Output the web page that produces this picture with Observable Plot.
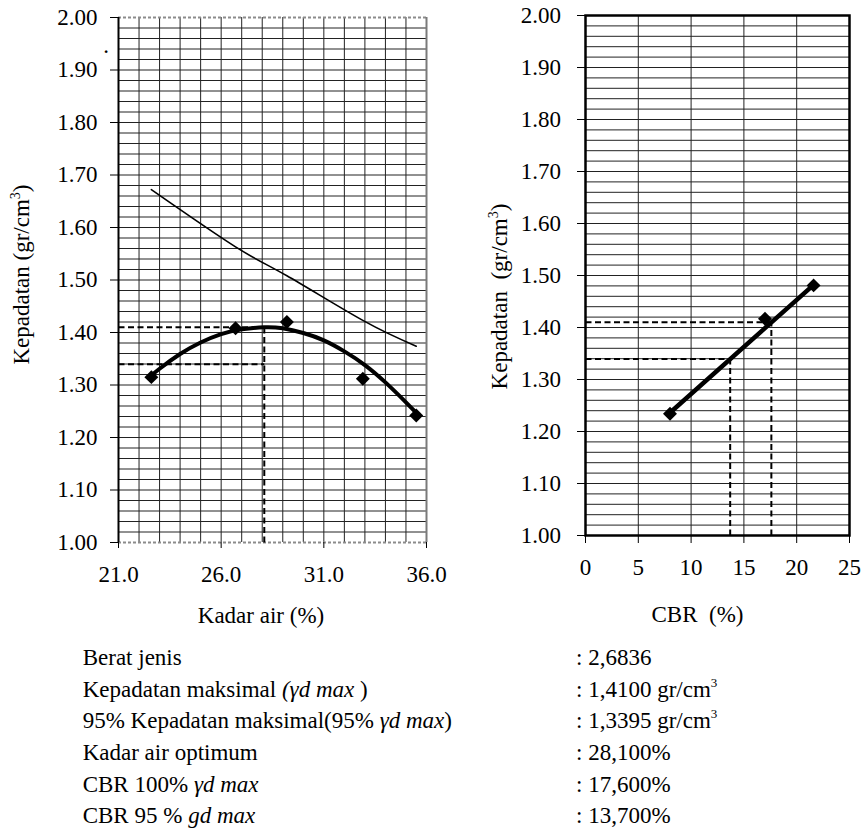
<!DOCTYPE html>
<html>
<head>
<meta charset="utf-8">
<script src="https://cdn.jsdelivr.net/npm/d3@7"></script>
<script src="https://cdn.jsdelivr.net/npm/@observablehq/plot@0.6"></script>
<style>
  body { margin: 0; background: #fff; }
  #page { position: relative; width: 863px; height: 834px; overflow: hidden; background: #fff; color: #000; }
  .chart { position: absolute; top: 0; }
  .chart svg { overflow: visible; }
  #overlay { position: absolute; left: 0; top: 0; pointer-events: none; overflow: visible; }
</style>
</head>
<body>
<div id="page">
  <div id="leftChart" class="chart" style="left:0px"></div>
  <div id="rightChart" class="chart" style="left:480px"></div>
</div>
<script>
// ---------- data ----------
// compaction test points
const kadarAir        = [22.6, 26.7, 29.2, 32.9, 35.5];
const kepadatanKering = [1.315, 1.408, 1.420, 1.312, 1.242];
// zero-air-voids line
const zavKadarAir   = [22.6, 26.7, 29.2, 32.9, 35.5];
const zavKepadatan  = [1.672, 1.563, 1.508, 1.423, 1.374];
// fitted compaction curve
const kurvaKadarAir  = [22.6, 23.0, 24.0, 25.0, 26.0, 27.0, 28.1, 29.0, 30.0, 31.0, 32.0, 33.0, 34.0, 35.0, 35.6];
const kurvaKepadatan = [1.318, 1.331, 1.359, 1.381, 1.397, 1.406, 1.410, 1.408, 1.399, 1.385, 1.364, 1.338, 1.305, 1.267, 1.243];
// CBR points
const cbr          = [8.0, 17.0, 21.6];
const kepadatanCBR = [1.234, 1.417, 1.481];
// CBR trend line end points
const trendCBR       = [8.0, 21.6];
const trendKepadatan = [1.236, 1.482];
// reference values
const gdMax = 1.41, gd95 = 1.3395, kadarAirOpt = 28.1, cbr100 = 17.6, cbr95 = 13.7;
// ticks
const yTicks       = [1.0, 1.1, 1.2, 1.3, 1.4, 1.5, 1.6, 1.7, 1.8, 1.9, 2.0];
const yGrid        = d3.range(0, 51).map(i => 1 + i * 0.02);
const xTicksKadar  = [21, 26, 31, 36];
const xGridKadar   = d3.range(21, 37);
const xTicksCBR    = [0, 5, 10, 15, 20, 25];
const xGridCBR     = [5, 10, 15, 20];
// texts
const labelInfo   = ["Berat jenis", "Kepadatan maksimal ", "95% Kepadatan maksimal(95% ", "Kadar air optimum", "CBR 100% ", "CBR 95 % "];
const labelItalic = ["", "(γd max ", "γd max", "", "γd max", "gd max"];
const labelTail   = ["", ")", ")", "", "", ""];
const valueInfo   = [": 2,6836", ": 1,4100 gr/cm", ": 1,3395 gr/cm", ": 28,100%", ": 17,600%", ": 13,700%"];
const valueSup    = ["", "3", "3", "", "", ""];

const FONT = "'Liberation Serif', serif";
const tickPx = 23;
const titlePx = 23;
const blockPx = 23;

// ---------- tables ----------
const titik  = kadarAir.map((x, i) => ({x, y: kepadatanKering[i]}));
const zav    = zavKadarAir.map((x, i) => ({x, y: zavKepadatan[i]}));
const kurva  = kurvaKadarAir.map((x, i) => ({x, y: kurvaKepadatan[i]}));
const titikCBR = cbr.map((x, i) => ({x, y: kepadatanCBR[i]}));
const trend  = trendCBR.map((x, i) => ({x, y: trendKepadatan[i]}));
const guidesLeft = [
  {x1: 21, y1: gdMax, x2: kadarAirOpt, y2: gdMax},
  {x1: 21, y1: gd95, x2: kadarAirOpt, y2: gd95},
  {x1: kadarAirOpt, y1: 1, x2: kadarAirOpt, y2: gdMax}
];
const guidesRight = [
  {x1: 0, y1: gdMax, x2: cbr100, y2: gdMax},
  {x1: cbr100, y1: 1, x2: cbr100, y2: gdMax},
  {x1: 0, y1: gd95, x2: cbr95, y2: gd95},
  {x1: cbr95, y1: 1, x2: cbr95, y2: gd95}
];

const baseStyle = {fontFamily: FONT, fontSize: `${tickPx}px`, background: "transparent", overflow: "visible"};
const gridColor = "#222";
const dash = {stroke: "#000", strokeWidth: 2, strokeDasharray: "6,3.5"};

const left = Plot.plot({
  width: 440, height: 600,
  marginLeft: 118, marginRight: 14, marginTop: 17, marginBottom: 58,
  x: {domain: [21, 36]},
  y: {domain: [1, 2]},
  style: baseStyle,
  marks: [
    Plot.ruleY(yGrid.filter(v => v > 1.001 && v < 1.999), {stroke: gridColor, strokeWidth: 1}),
    Plot.ruleX(xGridKadar.filter(v => v > 21 && v < 36), {stroke: gridColor, strokeWidth: 1}),
    Plot.ruleY([1, 2], {stroke: "#8c8c8c", strokeWidth: 2, strokeDasharray: "3,2"}),
    Plot.ruleX([36], {stroke: "#7a7a7a", strokeWidth: 2}),
    Plot.ruleX([21], {stroke: "#000", strokeWidth: 2}),
    Plot.link(guidesLeft, {x1: "x1", y1: "y1", x2: "x2", y2: "y2", ...dash}),
    Plot.line(zav, {x: "x", y: "y", stroke: "#000", strokeWidth: 1.6, curve: "natural"}),
    Plot.line(kurva, {x: "x", y: "y", stroke: "#000", strokeWidth: 4, curve: "natural"}),
    Plot.dot(titik, {x: "x", y: "y", symbol: "diamond2", r: 6.3, fill: "#000"}),
    Plot.axisY(yTicks, {tickSize: 8, tickPadding: 13, tickFormat: d => d.toFixed(2)}),
    Plot.axisX(xTicksKadar, {tickSize: 6, tickPadding: 17, tickFormat: d => d.toFixed(1)})
  ]
});

const right = Plot.plot({
  width: 383, height: 600,
  marginLeft: 105, marginRight: 14, marginTop: 15, marginBottom: 65,
  x: {domain: [0, 25]},
  y: {domain: [1, 2]},
  style: baseStyle,
  marks: [
    Plot.ruleY(yGrid.filter(v => v > 1.001 && v < 1.999), {stroke: gridColor, strokeWidth: 1}),
    Plot.ruleX(xGridCBR, {stroke: gridColor, strokeWidth: 1}),
    Plot.link(guidesRight, {x1: "x1", y1: "y1", x2: "x2", y2: "y2", ...dash}),
    Plot.line(trend, {x: "x", y: "y", stroke: "#000", strokeWidth: 4.5}),
    Plot.dot(titikCBR, {x: "x", y: "y", symbol: "diamond2", r: 6.3, fill: "#000"}),
    Plot.frame({stroke: "#000", strokeWidth: 2.5}),
    Plot.axisY(yTicks, {tickSize: 8, tickPadding: 16.5, tickFormat: d => d.toFixed(2)}),
    Plot.axisX(xTicksCBR, {tickSize: 8, tickPadding: 15, tickFormat: d => String(d)})
  ]
});

[left, right].forEach(svg => svg.querySelectorAll("text").forEach(t => {
  t.setAttribute("font-family", "Liberation Serif");
}));
document.getElementById("leftChart").appendChild(left);
document.getElementById("rightChart").appendChild(right);

// ---------- titles and info block (overlay svg, baseline-positioned) ----------
const ov = d3.select("#page").append("svg").attr("id", "overlay")
  .attr("width", 863).attr("height", 834).attr("fill", "#000")
  .attr("font-family", "Liberation Serif");

function txt(g, px) {
  return g.append("text").attr("font-family", "Liberation Serif").attr("font-size", px);
}
function titleWithSup(g, main, sup, tail) {
  const t = txt(g, titlePx);
  t.append("tspan").text(main);
  t.append("tspan").attr("font-size", 14).attr("dy", -9).text(sup);
  t.append("tspan").attr("dy", 9).text(tail);
  return t;
}
// y titles (rotated)
titleWithSup(ov, "Kepadatan (gr/cm", "3", ")")
  .attr("text-anchor", "middle")
  .attr("transform", "translate(29,274.5) rotate(-90)");
titleWithSup(ov, "Kepadatan\u00a0 (gr/cm", "3", ")")
  .attr("text-anchor", "middle")
  .attr("transform", "translate(507,296.5) rotate(-90)");
// x titles
txt(ov, titlePx).attr("text-anchor", "middle").attr("x", 261).attr("y", 623).text("Kadar air (%)");
txt(ov, titlePx).attr("text-anchor", "middle").attr("x", 697.5).attr("y", 622).text("CBR\u00a0 (%)");
// stray dot from the original
txt(ov, titlePx).attr("text-anchor", "middle").attr("x", 106).attr("y", 52.5).text(".");

// info block
const baselines = [665, 696.7, 728.3, 760, 791.7, 823.4];
labelInfo.forEach((s, i) => {
  const t = txt(ov, blockPx).attr("x", 82.7).attr("y", baselines[i]);
  t.append("tspan").text(s);
  if (labelItalic[i]) t.append("tspan").attr("font-style", "italic").text(labelItalic[i]);
  if (labelTail[i]) t.append("tspan").text(labelTail[i]);
});
valueInfo.forEach((s, i) => {
  const t = txt(ov, blockPx).attr("x", 576).attr("y", baselines[i]);
  t.append("tspan").text(s);
  if (valueSup[i]) t.append("tspan").attr("font-size", 13).attr("dy", -10).text(valueSup[i]);
});
</script>
</body>
</html>
